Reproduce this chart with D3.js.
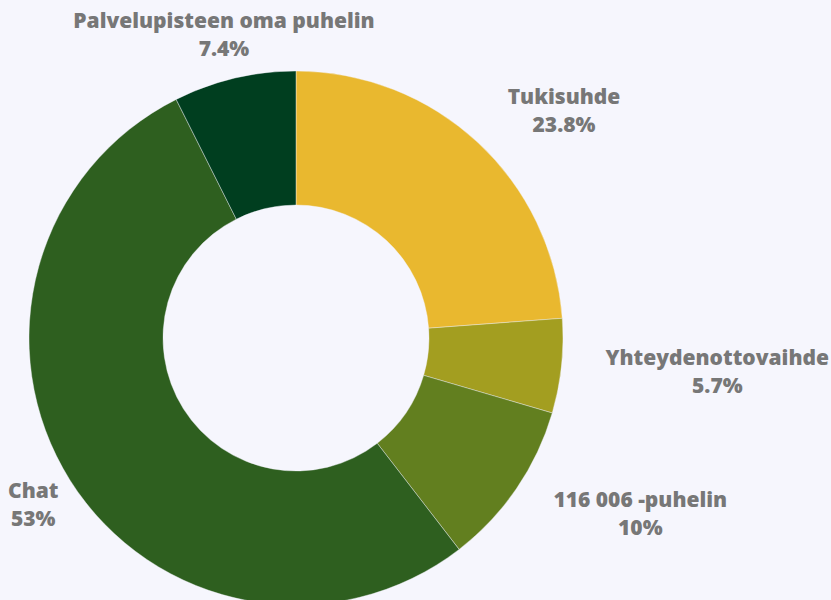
<!DOCTYPE html>
<html>
<head>
<meta charset="utf-8">
<script src="https://cdn.jsdelivr.net/npm/d3@7"></script>
<style>
  html, body { margin: 0; padding: 0; background: #f6f6fd; overflow: hidden; }
  #donut { width: 831px; height: 600px; }
</style>
</head>
<body>
<div id="donut"></div>
<script>
// Data
const categories = ["Tukisuhde", "Yhteydenottovaihde", "116 006 -puhelin", "Chat", "Palvelupisteen oma puhelin"];
const values = [23.8, 5.7, 10, 53, 7.4];
const valueLabels = ["23.8%", "5.7%", "10%", "53%", "7.4%"];
const colors = ["#e9b82f", "#a39e20", "#627f1f", "#2e5f1f", "#003e1f"];
// small nudges for the label placement (px)
const labelNudge = [[23, 36], [120, -5], [47, -28], [3, -26], [11, 0]];

const drawDonut = () => {

  /*******************************/
  /*    Declare the constants    */
  /*******************************/
  const width = 831;
  const height = 600;
  const cx = 296;
  const cy = 338;
  const outerRadius = 267;
  const innerRadius = 133;
  const labelRadius = 360;

  const svg = d3.select("#donut")
    .append("svg")
      .attr("width", width)
      .attr("height", height)
      .attr("viewBox", `0 0 ${width} ${height}`);

  const inner = svg.append("g")
    .attr("transform", `translate(${cx}, ${cy})`);

  const data = categories.map((c, i) => ({ name: c, value: values[i], label: valueLabels[i], color: colors[i], i }));

  /*******************************/
  /*      Pie and arcs           */
  /*******************************/
  const pie = d3.pie()
    .value(d => d.value)
    .sort(null);

  const arc = d3.arc()
    .innerRadius(innerRadius)
    .outerRadius(outerRadius);

  const labelArc = d3.arc()
    .innerRadius(labelRadius)
    .outerRadius(labelRadius);

  const arcs = pie(data);

  inner.selectAll(".slice")
    .data(arcs)
    .join("path")
      .attr("class", "slice")
      .attr("d", arc)
      .attr("fill", d => d.data.color)
      .attr("stroke", "#f6f6fd")
      .attr("stroke-width", 0.4);

  /*******************************/
  /*          Labels             */
  /*******************************/
  const labels = svg.append("g")
    .attr("font-family", "'Open Sans', sans-serif")
    .attr("font-weight", 800)
    .attr("font-size", 21)
    .attr("fill", "#777777")
    .attr("text-anchor", "middle");

  arcs.forEach(d => {
    const [lx, ly] = labelArc.centroid(d);
    const g = labels.append("g");
    const t1 = g.append("text").text(d.data.name).attr("y", -6);
    const t2 = g.append("text").text(d.data.label).attr("y", 22);
    const w = Math.max(t1.node().getComputedTextLength(), t2.node().getComputedTextLength());
    let x = cx + lx;
    let y = Math.max(34, cy + ly);
    x += labelNudge[d.data.i][0];
    y += labelNudge[d.data.i][1];
    // keep labels inside the frame
    x = Math.max(8 + w / 2, Math.min(width - 2 - w / 2, x));
    g.attr("transform", `translate(${x}, ${y})`);
  });
};

drawDonut();
</script>
</body>
</html>
